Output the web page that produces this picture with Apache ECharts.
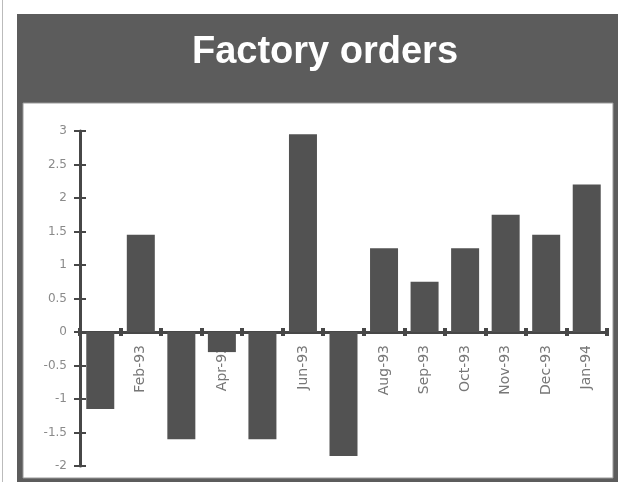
<!DOCTYPE html>
<html>
<head>
<meta charset="utf-8">
<script src="https://cdn.jsdelivr.net/npm/echarts@6/dist/echarts.min.js"></script>
<style>
  html, body { margin: 0; padding: 0; background: #fff; }
  #chart { width: 618px; height: 482px; }
</style>
</head>
<body>
<div id="chart"></div>
<script>
// data
var months = ['Jan-93', 'Feb-93', 'Mar-93', 'Apr-93', 'May-93', 'Jun-93', 'Jul-93',
              'Aug-93', 'Sep-93', 'Oct-93', 'Nov-93', 'Dec-93', 'Jan-94'];
var orders = [-1.15, 1.45, -1.6, -0.3, -1.6, 2.95, -1.85, 1.25, 0.75, 1.25, 1.75, 1.45, 2.2];
var yTicks = ['-2', '-1.5', '-1', '-0.5', '0', '0.5', '1', '1.5', '2', '2.5', '3'];

var myChart = echarts.init(document.getElementById('chart'));

var axisDark = '#474747';
var font = 'Liberation Sans, Arial, sans-serif';
var labelFont = 'DejaVu Sans, sans-serif';
// grid is 335px tall for 5 units, zero sits 2 units above the bottom
var zeroOffset = -134;

var option = {
  backgroundColor: '#fff',
  animation: false,
  title: {
    text: 'Factory orders',
    left: 320,
    top: 29,
    textAlign: 'center',
    textStyle: { color: '#fff', fontSize: 38, fontWeight: 'bold', fontFamily: font }
  },
  graphic: [
    // thin scan edge on the left
    { type: 'rect', z: -10, shape: { x: 2, y: 0, width: 1, height: 482 }, style: { fill: '#bbb' } },
    // dark frame + header band
    { type: 'rect', z: -10, shape: { x: 17, y: 14, width: 610, height: 480 }, style: { fill: '#5c5c5c' } },
    // white plot panel
    { type: 'rect', z: -9, shape: { x: 23, y: 103, width: 590, height: 375 },
      style: { fill: '#fff', stroke: '#999', lineWidth: 1 } }
  ],
  grid: { left: 80, right: 11, top: 131, bottom: 16, containLabel: false, outerBoundsMode: 'none' },
  xAxis: [
    {
      type: 'category',
      data: months,
      position: 'bottom',
      offset: zeroOffset,
      axisLine: { onZero: false, lineStyle: { color: axisDark, width: 3 } },
      axisTick: { show: true, length: 4, interval: 0, lineStyle: { color: axisDark, width: 4 } },
      axisLabel: {
        interval: 0, rotate: 90, margin: 13,
        color: '#777', fontSize: 14, fontFamily: labelFont
      },
      splitLine: { show: false }
    },
    {
      // second copy only for inside ticks
      type: 'category',
      data: months,
      position: 'bottom',
      offset: zeroOffset,
      axisLine: { show: false, onZero: false },
      axisTick: { show: true, inside: true, length: 4, interval: 0, lineStyle: { color: axisDark, width: 4 } },
      axisLabel: { show: false },
      splitLine: { show: false }
    }
  ],
  yAxis: [
    {
      type: 'value',
      min: -2, max: 3, interval: 0.5,
      axisLine: { show: true, lineStyle: { color: axisDark, width: 3 } },
      axisTick: { show: true, length: 6, lineStyle: { color: axisDark, width: 2 } },
      axisLabel: {
        margin: 13, color: '#8a8a8a', fontSize: 12, fontFamily: labelFont,
        formatter: function (v) { return yTicks[Math.round((v + 2) * 2)]; }
      },
      splitLine: { show: false }
    },
    {
      type: 'value',
      min: -2, max: 3, interval: 0.5,
      position: 'left',
      axisLine: { show: false },
      axisTick: { show: true, inside: true, length: 6, lineStyle: { color: axisDark, width: 2 } },
      axisLabel: { show: false },
      splitLine: { show: false }
    }
  ],
  series: [
    {
      name: 'Factory orders',
      type: 'bar',
      data: orders,
      barWidth: 28,
      itemStyle: { color: '#525252' }
    }
  ]
};

myChart.setOption(option);
</script>
</body>
</html>
